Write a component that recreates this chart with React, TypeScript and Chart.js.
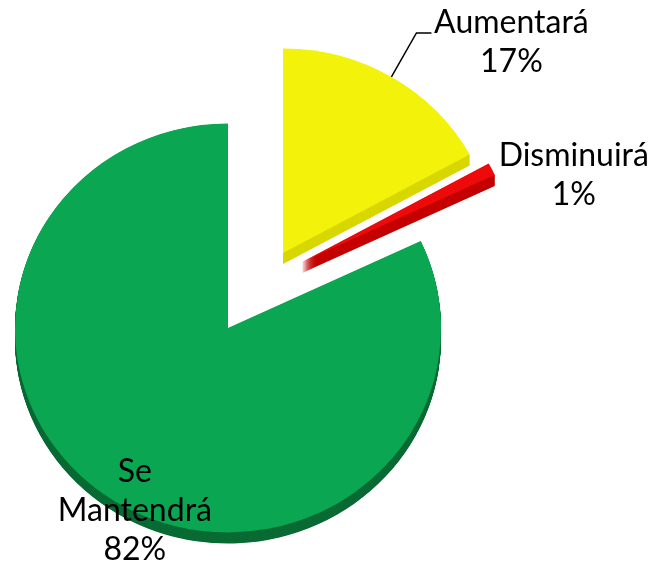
import { useEffect, useRef } from 'react';
import { Chart, registerables } from 'chart.js';

Chart.register(...registerables);

// ---- data ----
const CATEGORIES = ['Aumentará', 'Disminuirá', 'Se Mantendrá'];
const VALUES = [17, 1, 82];

// ---- styles ----
const FACE_COLORS = ['#F2F20A', '#EE0A0A', '#0BA651'];
const SIDE_COLORS = ['#D8D800', '#C40000', '#0A6B34'];
const SLICE_SHIFT: [number, number][] = [[55, -75], [74, -66], [0, 0]]; // exploded slices (px)
const LABEL_OFFSET: [number, number][] = [[120, -44], [82, -3], [21, -19]];
const LEADER: ([number, number][] | null)[] = [[[25, -44], [40, -44]], null, null];
const TILT = 0.96;
const DEPTH = 11;
const RADIUS = 213;
const FONT = '32px Lato, "DejaVu Sans", sans-serif';
const LINE_H = 39;

function center(chart: any) {
  const a = chart.chartArea;
  return { cx: (a.left + a.right) / 2, cy: (a.top + a.bottom) / 2 };
}

const pie3d = {
  id: 'pie3d',
  afterDatasetsUpdate(chart: any) {
    const meta = chart.getDatasetMeta(0);
    meta.data.forEach((arc: any, i: number) => {
      const [dx, dy] = SLICE_SHIFT[i];
      arc.x += dx;
      arc.y += dy / TILT;
    });
  },
  beforeDatasetsDraw(chart: any) {
    const ctx = chart.ctx;
    const { cx, cy } = center(chart);
    ctx.save();
    ctx.translate(cx, cy);
    ctx.scale(1, TILT);
    ctx.translate(-cx, -cy);
    const meta = chart.getDatasetMeta(0);
    meta.data.forEach((arc: any, i: number) => {
      const { x, y, startAngle, endAngle, outerRadius } = arc;
      ctx.fillStyle = SIDE_COLORS[i];
      for (let d = DEPTH; d >= 0.5; d -= 0.5) {
        ctx.beginPath();
        ctx.moveTo(x, y + d / TILT);
        ctx.arc(x, y + d / TILT, outerRadius, startAngle, endAngle);
        ctx.closePath();
        ctx.fill();
      }
    });
  },
  afterDatasetsDraw(chart: any) {
    const ctx = chart.ctx;
    ctx.restore();
    const { cy } = center(chart);
    const meta = chart.getDatasetMeta(0);
    const total = VALUES.reduce((s, v) => s + v, 0);
    ctx.save();
    ctx.fillStyle = '#000';
    ctx.strokeStyle = '#000';
    ctx.lineWidth = 1.5;
    ctx.font = FONT;
    ctx.textAlign = 'center';
    ctx.textBaseline = 'alphabetic';
    meta.data.forEach((arc: any, i: number) => {
      const mid = (arc.startAngle + arc.endAngle) / 2;
      const rx = arc.x + arc.outerRadius * Math.cos(mid);
      const ry = cy + TILT * (arc.y + arc.outerRadius * Math.sin(mid) - cy);
      const leader = LEADER[i];
      if (leader) {
        ctx.beginPath();
        ctx.moveTo(rx, ry);
        leader.forEach(([lx, ly]) => ctx.lineTo(rx + lx, ry + ly));
        ctx.stroke();
      }
      const lines = [...CATEGORIES[i].split(' '), Math.round((VALUES[i] / total) * 100) + '%'];
      const [ox, oy] = LABEL_OFFSET[i];
      lines.forEach((t, k) => ctx.fillText(t, rx + ox, ry + oy + k * LINE_H));
    });
    ctx.restore();
  },
};

export default function App() {
  const ref = useRef<HTMLCanvasElement>(null);
  useEffect(() => {
    document.body.style.margin = '0';
    const chart = new Chart(ref.current!, {
      type: 'pie',
      data: {
        labels: CATEGORIES,
        datasets: [
          {
            data: VALUES,
            backgroundColor: FACE_COLORS,
            borderWidth: 0,
            radius: RADIUS,
            clip: false,
          } as any,
        ],
      },
      options: {
        animation: false,
        responsive: true,
        maintainAspectRatio: false,
        layout: { padding: { left: 0, right: 196, top: 91, bottom: 0 } },
        plugins: { legend: { display: false }, tooltip: { enabled: false } },
        events: [],
      },
      plugins: [pie3d],
    });
    return () => chart.destroy();
  }, []);
  return (
    <div style={{ position: 'fixed', left: 0, top: 0, width: 652, height: 565 }}>
      <canvas ref={ref} />
    </div>
  );
}
